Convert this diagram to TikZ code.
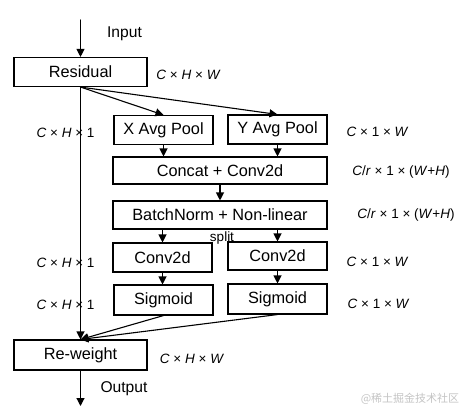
\documentclass[tikz,border=0pt]{standalone}
\usepackage{fontspec}
\setmainfont{Liberation Sans}
\newfontfamily\cjk{Noto Sans CJK SC}
\usetikzlibrary{arrows.meta}
\definecolor{markgray}{HTML}{C4C4C4}

\begin{document}
\begin{tikzpicture}[x=1pt, y=-1pt, line cap=round,
  box/.style={draw, line width=1.1pt, minimum height=29pt, inner sep=0pt, font=\fontsize{16.3}{16}\selectfont},
  lbl/.style={font=\fontsize{13.5}{14}\selectfont},
  io/.style={font=\fontsize{15.6}{16}\selectfont},
  arr/.style={-{Triangle[length=8pt, width=8pt]}, line width=1.1pt}]
  \useasboundingbox (0,0) rectangle (465,416);

  % Boxes
  \node[box, minimum width=133pt] (res) at (80.5,72) {Residual};
  \node[box, minimum width=99pt] (xpool) at (163.5,130) {X Avg Pool};
  \node[box, minimum width=99pt] (ypool) at (277.5,129.5) {Y Avg Pool};
  \node[box, minimum width=214pt, minimum height=27pt] (concat) at (220,170.5) {Concat + Conv2d};
  \node[box, minimum width=214pt, minimum height=28pt] (bn) at (220,215) {BatchNorm + Non-linear};
  \node[box, minimum width=99pt] (convx) at (162.5,257.5) {Conv2d};
  \node[box, minimum width=99pt, minimum height=28pt] (convy) at (277.5,256) {Conv2d};
  \node[box, minimum width=99pt, minimum height=30pt] (sigx) at (163.5,300) {Sigmoid};
  \node[box, minimum width=99pt, minimum height=30pt] (sigy) at (277.5,299) {Sigmoid};
  \node[box, minimum width=133pt, minimum height=30pt] (rw) at (80.5,355) {Re-weight};

  \coordinate (in) at (80.5,20);
  \coordinate (out) at (80.5,406);

  % Shape labels
  \node[io] (inlbl) at (124.5,34) {Input};
  \node[io] (outlbl) at (124,389) {Output};
  \node[lbl] (split) at (222,238) {split};
  \node[lbl] (s1) at (188.5,75) {\textit{C} × \textit{H} × \textit{W}};
  \node[lbl] (s2) at (192,359) {\textit{C} × \textit{H} × \textit{W}};
  \node[lbl] (h1) at (65.5,133) {\textit{C} × \textit{H} × 1};
  \node[lbl] (h2) at (65.5,263) {\textit{C} × \textit{H} × 1};
  \node[lbl] (h3) at (65.5,305) {\textit{C} × \textit{H} × 1};
  \node[lbl] (w1) at (377.5,132) {\textit{C} × 1 × \textit{W}};
  \node[lbl] (w2) at (377.5,262) {\textit{C} × 1 × \textit{W}};
  \node[lbl] (w3) at (378.5,304) {\textit{C} × 1 × \textit{W}};
  \node[lbl] (r1) at (401,172) {\textit{C}/\textit{r} × 1 × (\textit{W}+\textit{H})};
  \node[lbl] (r2) at (406,215) {\textit{C}/\textit{r} × 1 × (\textit{W}+\textit{H})};

  % Arrows
  \draw[arr] (in) -- (res.north);
  \draw[arr] (res.south) -- (xpool.north);
  \draw[arr] (res.south) -- (ypool.north);
  \draw[arr] (res.south) -- (rw.north);
  \draw[arr] (xpool.south) -- (xpool.south |- concat.north);
  \draw[arr] (ypool.south) -- (ypool.south |- concat.north);
  \draw[arr] (concat.south) -- (bn.north);
  \draw[arr] (convx.north |- bn.south) -- (convx.north);
  \draw[arr] (convy.north |- bn.south) -- (convy.north);
  \draw[arr] (convx.south) -- (convx.south |- sigx.north);
  \draw[arr] (convy.south) -- (convy.south |- sigy.north);
  \draw[arr] (sigx.south) -- (rw.north);
  \draw[arr] (sigy.south) -- (rw.north);
  \draw[arr] (rw.south) -- (out);

  \node[text=markgray, font=\cjk\fontsize{11}{11}\selectfont] (mark) at (410,399) {@稀土掘金技术社区};
\end{tikzpicture}
\end{document}
